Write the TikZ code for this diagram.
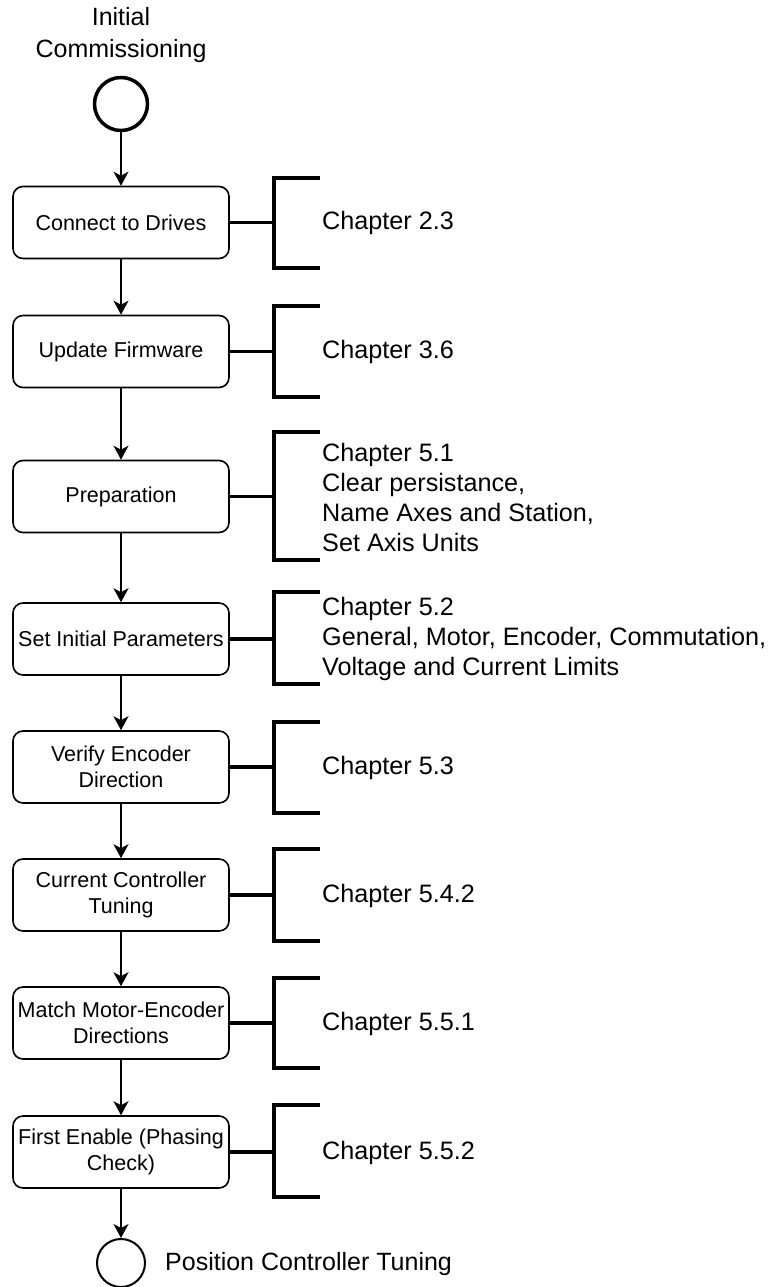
\documentclass[tikz,border=0pt]{standalone}
\usepackage{fontspec}
\setmainfont{Liberation Sans}
\usetikzlibrary{arrows.meta}

\tikzset{
  stepbox/.style={draw, line width=1.6pt, rounded corners=10pt, minimum width=216pt,
    minimum height=72pt, align=center, inner xsep=1pt, font=\fontsize{21.5}{25.8}\selectfont},
  flow/.style={line width=1.6pt, -{Stealth[length=14pt,width=15pt,inset=4pt]}},
  chapbracket/.style={line width=3.5pt},
  chaptext/.style={anchor=west, align=left, inner sep=0pt, font=\fontsize{25.2}{30}\selectfont},
  bigtext/.style={align=center, inner sep=0pt, font=\fontsize{25}{32}\selectfont}
}

\begin{document}
\begin{tikzpicture}[x=1pt,y=-1pt]
\useasboundingbox (0,0) rectangle (772,1287);
% start and end
\node[bigtext] (title) at (121,35) {Initial\\Commissioning};
\node[draw, circle, line width=3.5pt, minimum size=53pt, inner sep=0pt] (start) at (121,104) {};
\node[draw, circle, line width=2pt, minimum size=48pt, inner sep=0pt] (finish) at (121,1263) {};
\node[bigtext, anchor=west] (finishlabel) at (165,1264) {Position Controller Tuning};
% steps
\node[stepbox] (connect) at (121,222.5) {Connect to Drives};
\node[stepbox] (firmware) at (121,351.5) {Update Firmware};
\node[stepbox] (prep) at (121,496.5) {Preparation};
\node[stepbox] (params) at (121,639) {Set Initial Parameters};
\node[stepbox] (encdir) at (121,767) {Verify Encoder\\Direction};
\node[stepbox] (curctrl) at (121,895) {Current Controller\\Tuning};
\node[stepbox] (motenc) at (121,1023) {Match Motor-Encoder\\Directions};
\node[stepbox] (phasing) at (121,1152) {First Enable (Phasing\\Check)};
% flow
\draw[flow] (start) -- (connect);
\draw[flow] (connect) -- (firmware);
\draw[flow] (firmware) -- (prep);
\draw[flow] (prep) -- (params);
\draw[flow] (params) -- (encdir);
\draw[flow] (encdir) -- (curctrl);
\draw[flow] (curctrl) -- (motenc);
\draw[flow] (motenc) -- (phasing);
\draw[flow] (phasing) -- (finish);
% brackets
\coordinate (k1) at (274,222.5);
\coordinate (k2) at (274,351.5);
\coordinate (k3) at (274,496.5);
\coordinate (k4) at (274,639);
\coordinate (k5) at (274,767);
\coordinate (k6) at (274,895);
\coordinate (k7) at (274,1023);
\coordinate (k8) at (274,1152);
\draw[chapbracket] (connect.east) -- (k1);
\draw[chapbracket] (firmware.east) -- (k2);
\draw[chapbracket] (prep.east) -- (k3);
\draw[chapbracket] (params.east) -- (k4);
\draw[chapbracket] (encdir.east) -- (k5);
\draw[chapbracket] (curctrl.east) -- (k6);
\draw[chapbracket] (motenc.east) -- (k7);
\draw[chapbracket] (phasing.east) -- (k8);
\draw[chapbracket] (320,178) -- (274,178) -- (274,268) -- (320,268);
\draw[chapbracket] (320,306) -- (274,306) -- (274,397) -- (320,397);
\draw[chapbracket] (320,432) -- (274,432) -- (274,560) -- (320,560);
\draw[chapbracket] (320,592) -- (274,592) -- (274,684) -- (320,684);
\draw[chapbracket] (320,722) -- (274,722) -- (274,813) -- (320,813);
\draw[chapbracket] (320,849) -- (274,849) -- (274,941) -- (320,941);
\draw[chapbracket] (320,978) -- (274,978) -- (274,1068) -- (320,1068);
\draw[chapbracket] (320,1105) -- (274,1105) -- (274,1197) -- (320,1197);
% chapter references
\node[chaptext] (chA) at (322,223) {Chapter 2.3};
\node[chaptext] (chB) at (322,352) {Chapter 3.6};
\node[chaptext] (chC) at (322,497) {Chapter 5.1\\Clear persistance,\\Name Axes and Station,\\Set Axis Units};
\node[chaptext] (chD) at (322,639) {Chapter 5.2\\General, Motor, Encoder, Commutation,\\Voltage and Current Limits};
\node[chaptext] (chE) at (322,768) {Chapter 5.3};
\node[chaptext] (chF) at (322,896) {Chapter 5.4.2};
\node[chaptext] (chG) at (322,1024) {Chapter 5.5.1};
\node[chaptext] (chH) at (322,1153) {Chapter 5.5.2};
\end{tikzpicture}
\end{document}
